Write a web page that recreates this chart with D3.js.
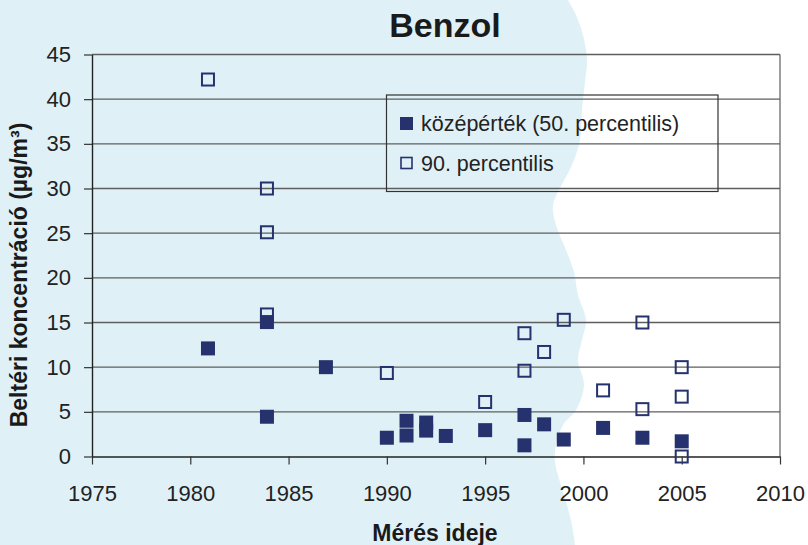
<!DOCTYPE html>
<html><head><meta charset="utf-8">
<script src="https://cdn.jsdelivr.net/npm/d3@7"></script>
<style>
body{margin:0;background:#fff}
svg{display:block;font-family:"Liberation Sans",Arial,sans-serif}
</style>
</head><body>
<svg id="c" width="808" height="545"></svg>
<script>
// ---- data ----
const years50 = [1980.9, 1983.9, 1983.9, 1986.9, 1990, 1991, 1991, 1992, 1992, 1993, 1995, 1997, 1997, 1998, 1999, 2001, 2003, 2005];
const vals50  = [12.1, 15.05, 4.45, 10.0, 2.1, 4.0, 2.35, 3.8, 2.9, 2.3, 2.95, 4.65, 1.25, 3.6, 1.9, 3.2, 2.1, 1.7];
const years90 = [1980.9, 1983.9, 1983.9, 1983.9, 1990, 1995, 1997, 1997, 1998, 1999, 2001, 2003, 2003, 2005, 2005, 2005];
const vals90  = [42.2, 30.0, 25.1, 15.9, 9.35, 6.1, 13.8, 9.6, 11.7, 15.3, 7.4, 15.0, 5.3, 10.0, 6.7, 0];
const xTicks = [1975, 1980, 1985, 1990, 1995, 2000, 2005, 2010];
const yTicks = [0, 5, 10, 15, 20, 25, 30, 35, 40, 45];
const seriesNames = ["középérték (50. percentilis)", "90. percentilis"];
const titleText = "Benzol";
const xTitle = "Mérés ideje";
const yTitle = "Beltéri koncentráció (µg/m³)";
// decorative background edge (page-art, not data)
const bgEdge = [[568,0],[576,15],[583,35],[587,60],[585,82],[582,110],[580,140],[572,165],[560,188],[553,205],[556,225],[566,250],[574,272],[578,295],[586,320],[582,340],[578,360],[584,385],[576,410],[563,425],[556,445],[555,462],[560,482],[567,505],[572,525],[575,545]];

// ---- layout ----
const svg = d3.select("#c");
const navy = "#25326e";
const x = d3.scaleLinear().domain([1975, 2010]).range([92, 780]);
const y = d3.scaleLinear().domain([0, 45]).range([456.5, 54.5]);

// background
const bgPts = [[0,0]].concat(bgEdge).concat([[0,545]]);
svg.append("rect").attr("width",808).attr("height",545).attr("fill","#fff");
svg.append("path")
  .attr("d", d3.line().curve(d3.curveCatmullRom)(bgEdge) + "L0,545L0,0Z")
  .attr("fill", "#dff1f7");

// gridlines
svg.append("g").selectAll("line").data(yTicks.filter(d=>d>0)).join("line")
  .attr("x1", x(1975)).attr("x2", x(2010))
  .attr("y1", d=>y(d)).attr("y2", d=>y(d))
  .attr("stroke", "#5e5e5e").attr("stroke-width", 1.3);
// right border
svg.append("line").attr("x1", x(2010)).attr("x2", x(2010)).attr("y1", y(45)).attr("y2", y(0))
  .attr("stroke", "#5e5e5e").attr("stroke-width", 1.2);

// axes
const xAxis = svg.append("g").attr("transform", `translate(0,${y(0)})`)
  .call(d3.axisBottom(x).tickValues(xTicks).tickFormat(d3.format("d")).tickSize(8).tickSizeOuter(0).tickPadding(21));
const yAxis = svg.append("g").attr("transform", `translate(${x(1975)},0)`)
  .call(d3.axisLeft(y).tickValues(yTicks).tickSize(8).tickSizeOuter(0).tickPadding(13));
[xAxis, yAxis].forEach(g => {
  g.select(".domain").attr("stroke", "#222").attr("stroke-width", 1.4);
  g.selectAll(".tick line").attr("stroke", "#333").attr("stroke-width", 1.2);
  g.selectAll(".tick text").attr("font-size", 22).attr("fill", "#222")
   .attr("font-family", '"Liberation Sans",Arial,sans-serif');
});

// legend
const lg = svg.append("g");
lg.append("rect").attr("x", 386.5).attr("y", 95).attr("width", 331.5).attr("height", 96.5)
  .attr("fill", "none").attr("stroke", "#333").attr("stroke-width", 1.2);
lg.append("rect").attr("x", 400).attr("y", 117).attr("width", 13).attr("height", 13).attr("fill", navy);
lg.append("rect").attr("x", 401).attr("y", 157.5).attr("width", 11).attr("height", 11)
  .attr("fill", "none").attr("stroke", navy).attr("stroke-width", 1.6);
lg.selectAll("text").data(seriesNames).join("text")
  .attr("x", 421).attr("y", (d,i)=> i===0 ? 131 : 171)
  .attr("font-size", 21.5).attr("fill", "#222").text(d=>d);

// 90th percentile (open squares)
const s = 14;
svg.append("g").selectAll("rect").data(years90.map((d,i)=>[d, vals90[i]])).join("rect")
  .attr("x", d=>x(d[0]) - (s-2)/2).attr("y", d=>y(d[1]) - (s-2)/2)
  .attr("width", s-2).attr("height", s-2)
  .attr("fill", "none").attr("stroke", navy).attr("stroke-width", 2);

// median (filled squares)
svg.append("g").selectAll("rect").data(years50.map((d,i)=>[d, vals50[i]])).join("rect")
  .attr("x", d=>x(d[0]) - s/2).attr("y", d=>y(d[1]) - s/2)
  .attr("width", s).attr("height", s).attr("fill", navy);

// titles
svg.append("text").attr("x", 445).attr("y", 37).attr("text-anchor", "middle")
  .attr("font-size", 34).attr("font-weight", "bold").attr("fill", "#1a1a1a").text(titleText);
svg.append("text").attr("x", 435).attr("y", 541).attr("text-anchor", "middle")
  .attr("font-size", 23).attr("font-weight", "bold").attr("fill", "#1a1a1a").text(xTitle);
svg.append("text").attr("transform", "translate(27,275) rotate(-90)").attr("text-anchor", "middle")
  .attr("font-size", 23).attr("font-weight", "bold").attr("fill", "#1a1a1a").text(yTitle);
</script>
</body></html>
